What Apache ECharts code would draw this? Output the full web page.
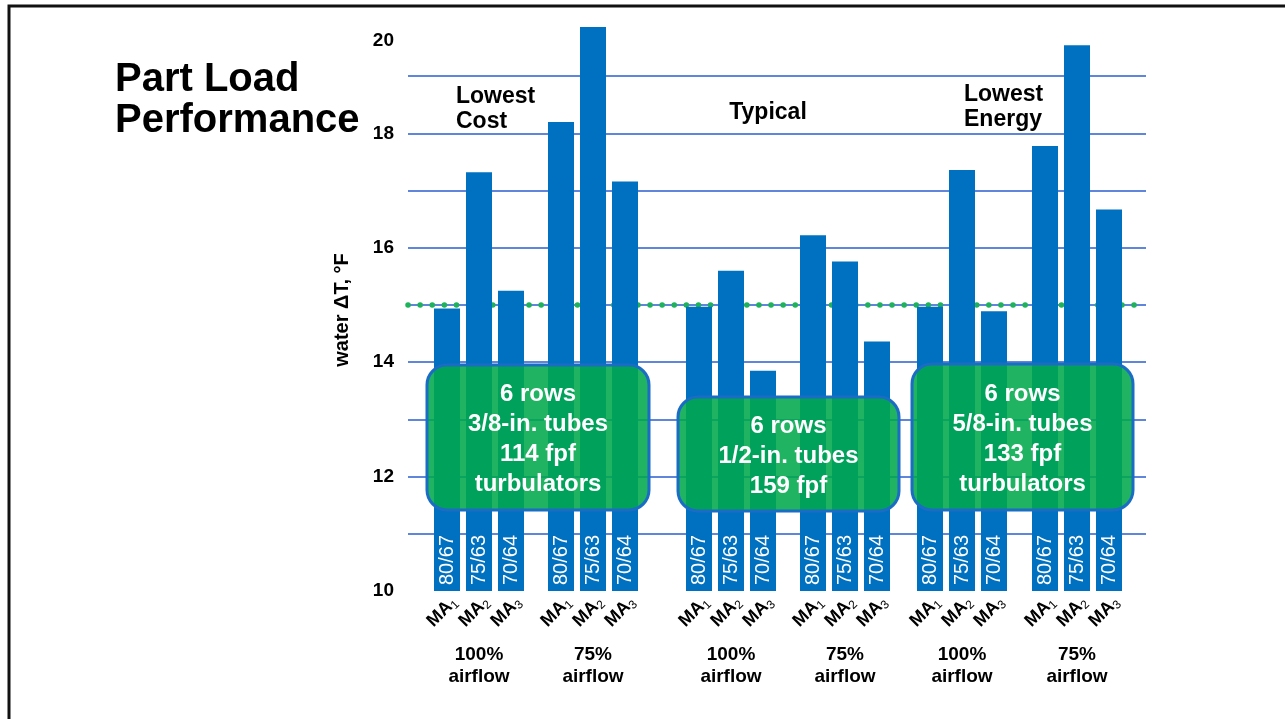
<!DOCTYPE html>
<html>
<head>
<meta charset="utf-8">
<script src="https://cdn.jsdelivr.net/npm/echarts@6/dist/echarts.min.js"></script>
<style>
  html, body { margin: 0; padding: 0; background: #ffffff; }
  #chart { width: 1285px; height: 719px; }
</style>
</head>
<body>
<div id="chart"></div>
<script>
// Coil designs, airflow settings and entering-air conditions
const designs = ['Lowest\nCost', 'Typical', 'Lowest\nEnergy'];
const airflows = ['100%\nairflow', '75%\nairflow'];
const maLabels = ['MA1', 'MA2', 'MA3'];
const conditions = ['80/67', '75/63', '70/64'];

// Water temperature rise (°F) for MA1, MA2, MA3
const lowestCost100 = [14.94, 17.32, 15.25];
const lowestCost75 = [18.20, 19.86, 17.16];
const typical100 = [14.97, 15.60, 13.85];
const typical75 = [16.22, 15.76, 14.36];
const lowestEnergy100 = [14.97, 17.36, 14.89];
const lowestEnergy75 = [17.78, 19.54, 16.67];

// Design water ΔT
const designDeltaT = 15;

// Labelled ticks on the value axis
const yTicks = [10, 12, 14, 16, 18, 20];

// Coil construction of each design
const coilSpecs = [
  '6 rows\n3/8-in. tubes\n114 fpf\nturbulators',
  '6 rows\n1/2-in. tubes\n159 fpf',
  '6 rows\n5/8-in. tubes\n133 fpf\nturbulators'
];

const subgroups = [
  [lowestCost100, lowestCost75],
  [typical100, typical75],
  [lowestEnergy100, lowestEnergy75]
];

const FONT = '"Liberation Sans", Arial, Helvetica, sans-serif';
const BAR_BLUE = '#0070c0';
const GRID_BLUE = '#5f86da';

// Layout: each airflow cluster gets its own narrow grid
const clusterCenters = [479, 593, 731, 845, 962, 1077];
const clusterWidth = 96;
const plotTop = 19;
const plotBottom = 128;

const grids = [{ left: 408, right: 139, top: plotTop, bottom: plotBottom }];
const xAxes = [{ gridIndex: 0, type: 'category', data: ['all'], show: false }];
const yAxes = [{
  gridIndex: 0,
  type: 'value',
  min: 10,
  max: 20,
  interval: 1,
  axisLine: { show: false },
  axisTick: { show: false },
  axisLabel: {
    margin: 14,
    color: '#000',
    fontFamily: FONT,
    fontWeight: 'bold',
    fontSize: 19,
    formatter: v => yTicks.includes(v) ? (v === 20 ? '{top|20}' : String(v)) : '',
    rich: {
      top: { padding: [44, 0, 0, 0], color: '#000', fontFamily: FONT, fontWeight: 'bold', fontSize: 19 }
    }
  },
  splitLine: {
    show: true,
    showMinLine: false,
    showMaxLine: false,
    lineStyle: { color: GRID_BLUE, width: 2 }
  },
  name: 'water ΔT, °F',
  nameLocation: 'middle',
  nameGap: 56,
  nameTextStyle: { color: '#000', fontFamily: FONT, fontWeight: 'bold', fontSize: 20, padding: [0, 10, 0, 0] }
}];

const series = [{
  // carries the dotted design-ΔT reference line
  type: 'line',
  xAxisIndex: 0,
  yAxisIndex: 0,
  data: [designDeltaT],
  showSymbol: false,
  lineStyle: { opacity: 0 },
  silent: true,
  z: 1,
  markLine: {
    silent: true,
    symbol: 'none',
    z: 1,
    label: { show: false },
    lineStyle: { color: '#1db35a', width: 5.5, type: [0.1, 12], cap: 'round', opacity: 1 },
    data: [{ yAxis: designDeltaT }]
  }
}];

let k = 0;
subgroups.forEach((pair, d) => {
  pair.forEach((values, a) => {
    const gi = k + 1;
    const c = clusterCenters[k];
    grids.push({ left: c - clusterWidth / 2, width: clusterWidth, top: plotTop, bottom: plotBottom });
    xAxes.push({
      gridIndex: gi,
      type: 'category',
      data: maLabels,
      axisLine: { show: false },
      axisTick: { show: false },
      axisLabel: {
        interval: 0,
        rotate: 45,
        margin: 1,
        verticalAlign: 'top',
        formatter: v => '{m|' + v.slice(0, 2) + '}{s|' + v.slice(2) + '}',
        rich: {
          m: { color: '#000', fontFamily: FONT, fontWeight: 'bold', fontSize: 18, lineHeight: 21, verticalAlign: 'middle' },
          s: { color: '#000', fontFamily: FONT, fontWeight: 'normal', fontSize: 12, lineHeight: 21, verticalAlign: 'bottom', padding: [7, 0, 0, 0] }
        }
      },
      name: airflows[a],
      nameLocation: 'middle',
      nameGap: 53,
      nameTextStyle: { color: '#000', fontFamily: FONT, fontWeight: 'bold', fontSize: 19, lineHeight: 22 }
    });
    yAxes.push({ gridIndex: gi, type: 'value', min: 10, max: 20, show: false });
    series.push({
      type: 'bar',
      name: designs[d] + ' ' + airflows[a],
      xAxisIndex: gi,
      yAxisIndex: gi,
      data: values,
      barWidth: 26,
      z: 2,
      itemStyle: { color: BAR_BLUE },
      label: {
        show: true,
        position: 'insideBottom',
        distance: 6,
        rotate: 90,
        align: 'left',
        verticalAlign: 'middle',
        color: '#fff',
        fontFamily: FONT,
        fontSize: 20,
        formatter: p => conditions[p.dataIndex]
      }
    });
    k++;
  });
});

// Design captions above the clusters
const captionStyle = { fill: '#000', fontFamily: FONT, fontWeight: 'bold', fontSize: 23, lineHeight: 25 };
const captions = [
  { x: 456, y: 84, align: 'left' },
  { x: 768, y: 100, align: 'center' },
  { x: 964, y: 82, align: 'left' }
];

// Coil specification panels
const panels = [
  { x: 427, y: 365, w: 222, h: 145 },
  { x: 678, y: 397, w: 221, h: 114 },
  { x: 912, y: 364, w: 221, h: 146 }
];

const graphics = [{
  type: 'rect',
  silent: true,
  z: 0,
  shape: { x: 9, y: 6, width: 1300, height: 800 },
  style: { fill: 'none', stroke: '#111', lineWidth: 3 }
}];
designs.forEach((txt, i) => {
  graphics.push({
    type: 'text',
    z: 50,
    style: Object.assign({
      text: txt, x: captions[i].x, y: captions[i].y,
      align: captions[i].align, verticalAlign: 'top'
    }, captionStyle)
  });
});
coilSpecs.forEach((txt, i) => {
  const p = panels[i];
  graphics.push({
    type: 'rect',
    z: 100,
    shape: { x: p.x, y: p.y, width: p.w, height: p.h, r: 20 },
    style: { fill: 'rgba(0, 168, 76, 0.88)', stroke: '#1a6cc4', lineWidth: 3 }
  });
  graphics.push({
    type: 'text',
    z: 101,
    style: {
      text: txt, x: p.x + p.w / 2, y: p.y + p.h / 2 + 2,
      align: 'center', verticalAlign: 'middle',
      fill: '#fff', fontFamily: FONT, fontWeight: 'bold', fontSize: 24, lineHeight: 30
    }
  });
});

const chart = echarts.init(document.getElementById('chart'), null, { renderer: 'canvas' });
chart.setOption({
  animation: false,
  backgroundColor: '#ffffff',
  title: {
    text: 'Part Load\nPerformance',
    left: 115,
    top: 59,
    padding: 0,
    textStyle: { color: '#000', fontFamily: FONT, fontWeight: 'bold', fontSize: 40, lineHeight: 41 }
  },
  grid: grids,
  xAxis: xAxes,
  yAxis: yAxes,
  series: series,
  graphic: graphics
});
</script>
</body>
</html>
